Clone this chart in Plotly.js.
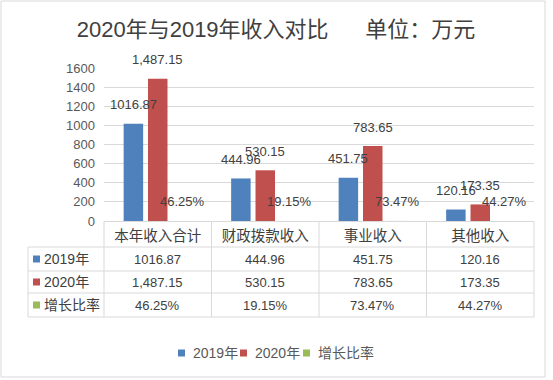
<!DOCTYPE html>
<html>
<head>
<meta charset="utf-8">
<script src="https://cdn.plot.ly/plotly-3.0.1.min.js"></script>
<style>html,body{margin:0;padding:0;background:#fff;}#chart{width:553px;height:380px;}</style>
</head>
<body>
<div id="chart"></div>
<script>
// ---- data ----
var categories = ['本年收入合计', '财政拨款收入', '事业收入', '其他收入'];
var seriesNames = ['2019年', '2020年', '增长比率'];
var values2019 = [1016.87, 444.96, 451.75, 120.16];
var values2020 = [1487.15, 530.15, 783.65, 173.35];
var growthPct = [46.25, 19.15, 73.47, 44.27];
var labels2019 = ['1016.87', '444.96', '451.75', '120.16'];
var labels2020 = ['1,487.15', '530.15', '783.65', '173.35'];
var labelsGrowth = ['46.25%', '19.15%', '73.47%', '44.27%'];
var yTicks = [0, 200, 400, 600, 800, 1000, 1200, 1400, 1600];

// ---- style ----
var colors = ['#4f81bd', '#c0504d', '#9bbb59'];
var FONT = 'Liberation Sans, Noto Sans CJK SC, sans-serif';
var W = 553, H = 380, L = 104, R = 534, T = 68, B = 221;
function px(x) { return (x - L) / (R - L); }
function py(y) { return (B - y) / (B - T); }
var gridColor = '#d9d9d9';
var textColor = '#404040';

var growthValues = growthPct.map(function (v) { return v / 100; });
var seriesVals = [values2019, values2020, growthValues];
var seriesLabels = [labels2019, labels2020, labelsGrowth];

var traces = seriesVals.map(function (vals, i) {
  return {
    type: 'bar', x: categories, y: vals, name: seriesNames[i],
    marker: { color: colors[i] }, showlegend: false, hoverinfo: 'skip'
  };
});

var annotations = [];
var shapes = [];
var barStep = 24.3;
seriesVals.forEach(function (vals, i) {
  vals.forEach(function (v, j) {
    annotations.push({
      xref: 'x', yref: 'y', x: categories[j], y: v,
      xshift: (i - 1) * barStep, yshift: 19,
      text: seriesLabels[i][j], showarrow: false,
      xanchor: 'center', yanchor: 'middle',
      font: { family: FONT, size: 13, color: textColor }
    });
  });
});

// ---- data table ----
var colEdges = [104, 211.5, 319, 426.5, 534];
var rowEdges = [247, 271, 293, 317];
var tableLeft = 28;
var lineStyle = { color: gridColor, width: 1 };
rowEdges.forEach(function (y) {
  shapes.push({ type: 'line', xref: 'paper', yref: 'paper', x0: px(tableLeft), x1: px(R), y0: py(y), y1: py(y), line: lineStyle });
});
colEdges.forEach(function (x) {
  shapes.push({ type: 'line', xref: 'paper', yref: 'paper', x0: px(x), x1: px(x), y0: py(B), y1: py(317), line: lineStyle });
});
shapes.push({ type: 'line', xref: 'paper', yref: 'paper', x0: px(tableLeft), x1: px(tableLeft), y0: py(247), y1: py(317), line: lineStyle });

var rowTexts = [labels2019, labels2020, labelsGrowth];
var rowCenters = [259, 282, 305];
rowTexts.forEach(function (row, i) {
  shapes.push({ type: 'rect', xref: 'paper', yref: 'paper', x0: px(33), x1: px(40), y0: py(rowCenters[i] - 3.5), y1: py(rowCenters[i] + 3.5), fillcolor: colors[i], line: { width: 0 } });
  annotations.push({ xref: 'paper', yref: 'paper', x: px(42), y: py(rowCenters[i]), xanchor: 'left', yanchor: 'middle', showarrow: false, text: seriesNames[i], font: { family: FONT, size: 14, color: textColor } });
  row.forEach(function (t, j) {
    annotations.push({ xref: 'paper', yref: 'paper', x: px((colEdges[j] + colEdges[j + 1]) / 2), y: py(rowCenters[i]), xanchor: 'center', yanchor: 'middle', showarrow: false, text: t, font: { family: FONT, size: 13, color: textColor } });
  });
});

// ---- legend ----
var legendItems = [{ sq: 178, tx: 191 }, { sq: 240, tx: 253 }, { sq: 303, tx: 316 }];
var legendY = 353;
legendItems.forEach(function (it, i) {
  shapes.push({ type: 'rect', xref: 'paper', yref: 'paper', x0: px(it.sq), x1: px(it.sq + 7), y0: py(legendY - 3.5), y1: py(legendY + 3.5), fillcolor: colors[i], line: { width: 0 } });
  annotations.push({ xref: 'paper', yref: 'paper', x: px(it.tx), y: py(legendY), xanchor: 'left', yanchor: 'middle', showarrow: false, text: seriesNames[i], font: { family: FONT, size: 14, color: '#595959' } });
});

// outer frame
shapes.push({ type: 'rect', xref: 'paper', yref: 'paper', x0: px(1), x1: px(545), y0: py(1), y1: py(377), line: { color: gridColor, width: 1 }, fillcolor: 'rgba(0,0,0,0)' });

var layout = {
  width: W, height: H,
  margin: { l: L, r: W - R, t: T, b: H - B, pad: 0 },
  paper_bgcolor: '#ffffff', plot_bgcolor: '#ffffff',
  title: {
    text: '2020年与2019年收入对比\u00a0\u00a0\u00a0\u00a0\u00a0\u00a0单位：万元',
    x: 276 / W, xanchor: 'center', xref: 'container',
    y: 1 - 29 / H, yanchor: 'middle', yref: 'container',
    font: { family: FONT, size: 22, color: textColor }
  },
  barmode: 'group', bargap: 0.32, bargroupgap: 0.2,
  showlegend: false,
  xaxis: {
    type: 'category', showgrid: false, zeroline: false,
    showline: false, ticks: '',
    tickfont: { family: FONT, size: 14.5, color: textColor },
    ticklabelstandoff: 4, fixedrange: true
  },
  yaxis: {
    range: [0, 1600], tickvals: yTicks, ticktext: yTicks.map(String),
    showgrid: true, gridcolor: gridColor, gridwidth: 1,
    zeroline: true, zerolinecolor: gridColor, zerolinewidth: 1,
    showline: false, ticks: '',
    tickfont: { family: FONT, size: 13, color: '#595959' },
    ticklabelstandoff: 8, fixedrange: true
  },
  annotations: annotations,
  shapes: shapes
};

Plotly.newPlot('chart', traces, layout, { displayModeBar: false, staticPlot: true });
</script>
</body>
</html>
